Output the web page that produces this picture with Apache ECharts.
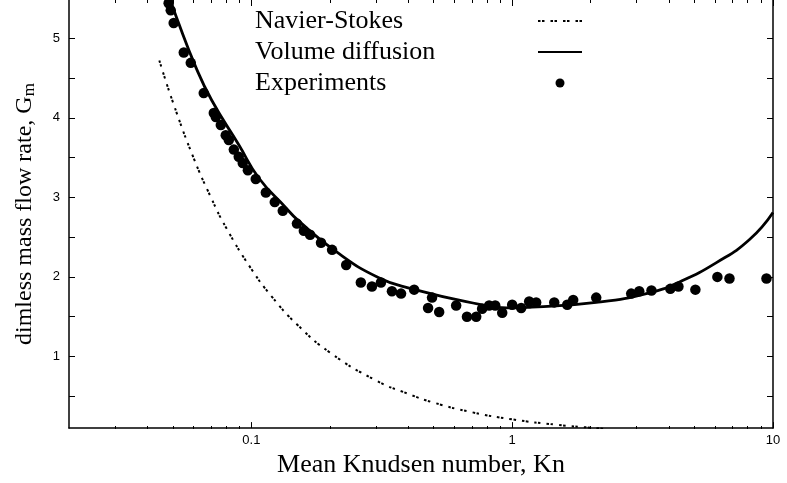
<!DOCTYPE html>
<html><head><meta charset="utf-8">
<script src="https://cdn.jsdelivr.net/npm/echarts@6/dist/echarts.min.js"></script>
<style>html,body{margin:0;padding:0;background:#fff}#c{width:787px;height:483px}</style>
</head><body><div id="c"></div>
<script>
// ---- data ----
const knMajorTicks = [0.1, 1, 10];
const knMinorTicks = [0.03,0.04,0.05,0.06,0.07,0.08,0.09,0.2,0.3,0.4,0.5,0.6,0.7,0.8,0.9,2,3,4,5,6,7,8,9];
const gTicks = [0.5,1,1.5,2,2.5,3,3.5,4,4.5,5];
const gLabels = [1,2,3,4,5];

const nsKn = [0.0444,0.05,0.06,0.07,0.08,0.1,0.12,0.15,0.2,0.3,0.4,0.5,0.7,1.0,1.5,2.0,2.3];
const nsG  = [4.72,4.2,3.5,3.0,2.62,2.1,1.75,1.4,1.05,0.70,0.53,0.42,0.30,0.21,0.14,0.105,0.09];

const vdKn = [0.049,0.0518,0.0612,0.0705,0.0895,0.107,0.1356,0.15,0.211,0.308,0.413,0.666,1.0,1.19,2.10,3.36,4.4,6.07,8.13,10];
const vdG  = [5.48,5.25,4.64,4.22,3.66,3.24,2.87,2.72,2.32,1.99,1.85,1.69,1.61,1.62,1.68,1.80,1.94,2.18,2.47,2.81];

const expKn = [0.0482,0.0491,0.0504,0.0551,0.0586,0.0657,0.0718,0.0731,0.0764,0.0798,0.082,0.0857,0.0895,0.0927,0.097,0.104,0.1137,0.123,0.132,0.1496,0.159,0.168,0.185,0.204,0.231,0.263,0.290,0.314,0.346,0.375,0.421,0.476,0.493,0.525,0.610,0.671,0.728,0.767,0.816,0.861,0.916,1.0,1.083,1.162,1.236,1.45,1.626,1.714,2.10,2.86,3.07,3.42,4.04,4.34,5.04,6.12,6.81,9.44];
const expG  = [5.44,5.35,5.19,4.82,4.69,4.31,4.06,4.01,3.91,3.78,3.72,3.60,3.51,3.43,3.34,3.23,3.06,2.94,2.83,2.67,2.58,2.53,2.43,2.34,2.15,1.93,1.88,1.93,1.82,1.79,1.84,1.61,1.74,1.56,1.64,1.50,1.50,1.60,1.64,1.64,1.55,1.65,1.61,1.69,1.68,1.68,1.65,1.71,1.74,1.79,1.82,1.83,1.85,1.88,1.84,2.00,1.98,1.98];

const seriesNames = ['Navier-Stokes','Volume diffusion','Experiments'];
const xTitle = 'Mean Knudsen number, Kn';
const yTitle = '{t|dimless mass flow rate, G}{s|m}';

// ---- chart ----
const zip = (a,b) => a.map((v,i)=>[v,b[i]]);
const X_MIN = 0.02, X_MAX = 10, Y_MIN = 0.1, Y_MAX = 5.48;
const black = '#000';
const gridBox = {left:69, right:14, top:0, bottom:54};
const sansLbl = {color:black, fontFamily:'Liberation Sans', fontSize:13};

function xAx(grid, pos, ticks, len, labels, lineShow){
  return {
    type:'log', logBase:10, gridIndex:grid, position:pos, min:X_MIN, max:X_MAX,
    axisLine:{show:lineShow, lineStyle:{color:black, width:1.5}},
    axisTick:{show:true, inside:true, length:len, customValues:ticks, lineStyle:{color:black, width:1}},
    axisLabel: labels ? Object.assign({show:true, customValues:knMajorTicks, margin:6,
                 formatter: v => String(+v.toPrecision(3))}, sansLbl) : {show:false},
    splitLine:{show:false}, minorTick:{show:false}
  };
}
function yAx(grid, pos, labels, show){
  return {
    type:'value', gridIndex:grid, position:pos, min:Y_MIN, max:Y_MAX, show:show,
    axisLine:{show:true, lineStyle:{color:black, width:1.5}},
    axisTick:{show:true, inside:true, length:6, customValues:gTicks, lineStyle:{color:black, width:1}},
    axisLabel: labels ? Object.assign({show:true, customValues:gLabels, margin:9}, sansLbl) : {show:false},
    splitLine:{show:false}
  };
}

const xAxes = [
  xAx(0,'bottom',knMajorTicks,6,true,true),
  xAx(0,'top',knMajorTicks,6,false,false),
  xAx(1,'bottom',knMinorTicks,3,false,false),
  xAx(1,'top',knMinorTicks,3,false,false)
];
Object.assign(xAxes[0], {name:xTitle, nameLocation:'middle', nameGap:22,
  nameTextStyle:{color:black, fontFamily:'Liberation Serif', fontSize:26}});
const yAxes = [yAx(0,'left',true,true), yAx(0,'right',false,true), yAx(1,'left',false,false)];
Object.assign(yAxes[0], {name:yTitle, nameLocation:'middle', nameGap:31,
  nameTextStyle:{color:black, rich:{
    t:{fontFamily:'Liberation Serif', fontSize:24, color:black},
    s:{fontFamily:'Liberation Serif', fontSize:17, color:black, padding:[10,0,0,0]}
  }}});

const hiddenDot = {color:'rgba(0,0,0,0)', borderWidth:0, opacity:0};

const chart = echarts.init(document.getElementById('c'), null, {renderer:'canvas'});
chart.setOption({
  animation:false,
  backgroundColor:'#fff',
  grid:[Object.assign({}, gridBox), Object.assign({}, gridBox)],
  xAxis:xAxes, yAxis:yAxes,
  legend:{
    orient:'vertical', left:255, top:8, padding:0, align:'right',
    itemWidth:44, itemHeight:9, itemGap:5,
    data:[
      {name:seriesNames[0], itemStyle:hiddenDot},
      {name:seriesNames[1], itemStyle:hiddenDot},
      {name:seriesNames[2]}
    ],
    formatter: n => '{a|' + n + '}',
    textStyle:{rich:{a:{width:278, align:'left', fontFamily:'Liberation Serif', fontSize:26, lineHeight:20, color:black}}}
  },
  series:[
    {name:seriesNames[0], type:'line', xAxisIndex:0, yAxisIndex:0, data:zip(nsKn,nsG),
     smooth:true, symbol:'none', clip:true,
     lineStyle:{color:black, width:2, type:[2.5,1.5,2.5,6]}, itemStyle:{color:black}},
    {name:seriesNames[1], type:'line', xAxisIndex:0, yAxisIndex:0, data:zip(vdKn,vdG),
     smooth:true, symbol:'none', clip:true,
     lineStyle:{color:black, width:2.8}, itemStyle:{color:black}},
    {name:seriesNames[2], type:'scatter', xAxisIndex:0, yAxisIndex:0, data:zip(expKn,expG),
     symbol:'circle', symbolSize:10.5, itemStyle:{color:black, opacity:1}}
  ]
});
</script></body></html>
